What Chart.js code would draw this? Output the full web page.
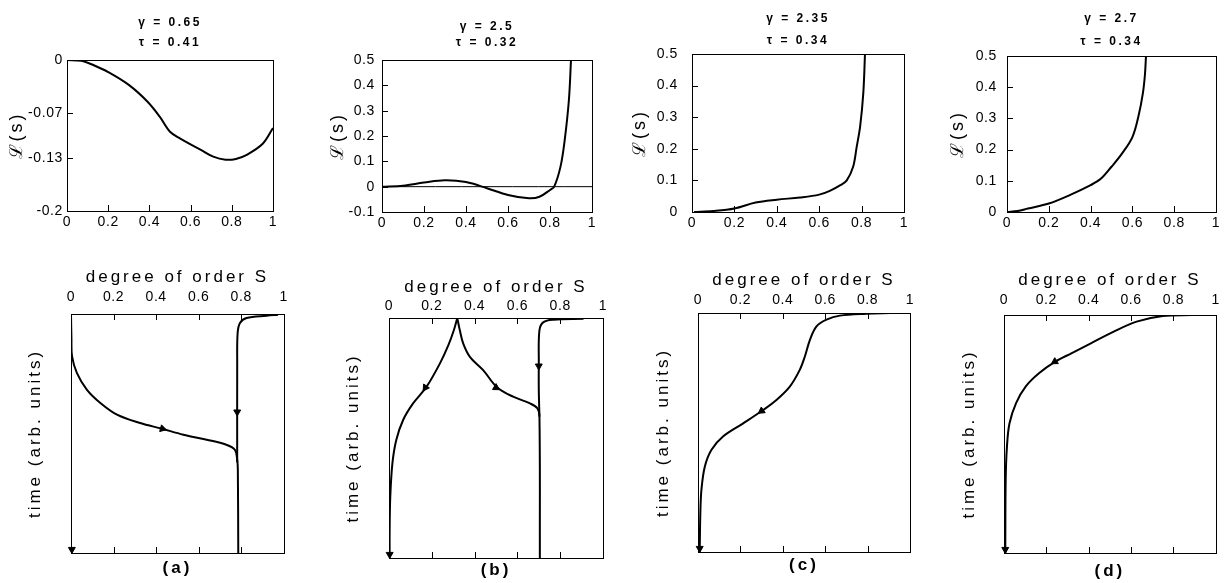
<!DOCTYPE html>
<html>
<head>
<meta charset="utf-8">
<script src="https://cdn.jsdelivr.net/npm/chart.js@4.4.0/dist/chart.umd.min.js"></script>
<style>
  body { margin: 0; background: #fff; }
  #wrap { position: relative; width: 1226px; height: 583px; overflow: hidden; }
  canvas { position: absolute; }
</style>
</head>
<body>
<div id="wrap"></div>
<script>
// run parameters
const gammas = ['0.65', '2.5', '2.35', '2.7'];
const taus = ['0.41', '0.32', '0.34', '0.34'];
const panelLetters = ['(a)', '(b)', '(c)', '(d)'];

// tick labels
const sTicks = [0, 0.2, 0.4, 0.6, 0.8, 1];
const sInner = [0.2, 0.4, 0.6, 0.8];
const lTicksA = [0, -0.07, -0.13, -0.2];
const lTicksB = [-0.1, 0, 0.1, 0.2, 0.3, 0.4, 0.5];
const lTicksCD = [0, 0.1, 0.2, 0.3, 0.4, 0.5];

// top row: L(s) curves
const sTopA = [0, 0.07, 0.13, 0.2, 0.3, 0.39, 0.45, 0.5, 0.55, 0.65, 0.71, 0.77, 0.82, 0.87, 0.95, 1];
const lTopA = [0, -0.001, -0.007, -0.016, -0.033, -0.055, -0.075, -0.095, -0.104, -0.119, -0.128, -0.132, -0.131, -0.126, -0.111, -0.09];
const sTopB = [0, 0.1, 0.2, 0.3, 0.4, 0.5, 0.6, 0.7, 0.75, 0.8, 0.82, 0.85, 0.87, 0.89, 0.9];
const lTopB = [0, 0.004, 0.016, 0.025, 0.018, -0.006, -0.033, -0.046, -0.04, -0.013, 0, 0.079, 0.184, 0.342, 0.5];
const sTopC = [0.01, 0.1, 0.2, 0.3, 0.4, 0.51, 0.6, 0.65, 0.7, 0.73, 0.76, 0.777, 0.793, 0.808, 0.816];
const lTopC = [0, 0.003, 0.011, 0.03, 0.039, 0.046, 0.055, 0.067, 0.085, 0.1, 0.143, 0.207, 0.27, 0.376, 0.5];
const sTopD = [0, 0.05, 0.1, 0.2, 0.3, 0.4, 0.45, 0.5, 0.55, 0.6, 0.63, 0.65, 0.66, 0.665];
const lTopD = [0, 0.003, 0.011, 0.027, 0.054, 0.086, 0.107, 0.145, 0.187, 0.24, 0.31, 0.38, 0.44, 0.5];

// bottom row: trajectories S(t), time runs downwards
const sA1 = [0, 0.002, 0.005, 0.028, 0.075, 0.138, 0.216, 0.325, 0.427, 0.528, 0.638, 0.73, 0.77, 0.781, 0.784, 0.786];
const tA1 = [0, 0.1, 0.177, 0.247, 0.317, 0.372, 0.421, 0.456, 0.48, 0.505, 0.526, 0.547, 0.568, 0.609, 0.651, 1];
const sA2 = [0.973, 0.919, 0.825, 0.794, 0.783, 0.781, 0.781];
const tA2 = [0.003, 0.007, 0.017, 0.038, 0.08, 0.205, 0.62];
const sB1 = [0.319, 0.303, 0.277, 0.2375, 0.175, 0.1125, 0.066, 0.034, 0.016, 0.006, 0.003, 0.003];
const tB1 = [0, 0.051, 0.114, 0.19, 0.287, 0.356, 0.425, 0.508, 0.605, 0.744, 0.882, 1];
const sB2 = [0.319, 0.331, 0.347, 0.378, 0.44, 0.503, 0.58, 0.659, 0.694, 0.703, 0.705];
const tB2 = [0, 0.051, 0.107, 0.162, 0.217, 0.287, 0.328, 0.356, 0.377, 0.411, 1];
const sB3 = [0.909, 0.769, 0.722, 0.703, 0.7, 0.7, 0.703];
const tB3 = [0.003, 0.007, 0.017, 0.051, 0.19, 0.3, 0.411];
const sC = [0.906, 0.795, 0.669, 0.606, 0.559, 0.528, 0.504, 0.48, 0.433, 0.37, 0.307, 0.213, 0.118, 0.063, 0.032, 0.016, 0.011, 0.008];
const tC = [0, 0.003, 0.011, 0.028, 0.056, 0.112, 0.182, 0.238, 0.308, 0.364, 0.406, 0.462, 0.517, 0.573, 0.643, 0.741, 0.839, 1];
const sD = [0.888, 0.749, 0.626, 0.518, 0.41, 0.318, 0.242, 0.165, 0.103, 0.057, 0.026, 0.014, 0.008, 0.006];
const tD = [0, 0.004, 0.028, 0.07, 0.119, 0.161, 0.196, 0.245, 0.3, 0.37, 0.455, 0.552, 0.692, 1];

// arrow heads on the trajectories: S, t, heading in degrees
const arrowsA = [[0.43, 0.48, 105], [0.781, 0.41, 180], [0.004, 0.985, 180]];
const arrowsB = [[0.17, 0.29, 214], [0.5, 0.29, 121], [0.7, 0.2, 180], [0.003, 0.985, 180]];
const arrowsC = [[0.3, 0.41, 235], [0.008, 0.985, 180]];
const arrowsD = [[0.24, 0.196, 239], [0.006, 0.985, 180]];

const ink = '#000';
Chart.defaults.font.family = "'Liberation Sans', Arial, sans-serif";
Chart.defaults.color = ink;

const pts = (xs, ys) => xs.map((x, i) => ({ x, y: ys[i] }));

// the print uses wide letter spacing; canvas can do that per font size
function spaceText(ctx) {
  const desc = Object.getOwnPropertyDescriptor(CanvasRenderingContext2D.prototype, 'font');
  Object.defineProperty(ctx, 'font', {
    get() { return desc.get.call(this); },
    set(v) {
      desc.set.call(this, v);
      const m = /(\d+(\.\d+)?)px/.exec(v);
      const size = m ? parseFloat(m[1]) : 12;
      this.letterSpacing = size <= 12 ? '2.5px' : size < 15 ? '0.6px' : '3px';
    }
  });
}

// box frame + inward tick marks
const frameTicks = {
  id: 'frameTicks',
  afterDatasetsDraw(chart, args, opts) {
    const { ctx, chartArea: a } = chart;
    ctx.save();
    ctx.strokeStyle = ink;
    ctx.lineWidth = 1;
    (opts.marks || []).forEach(([id, side, vals]) => {
      const sc = chart.scales[id];
      vals.forEach(v => {
        const p = Math.round(sc.getPixelForValue(v)) + 0.5;
        ctx.beginPath();
        if (side === 'bottom') { ctx.moveTo(p, a.bottom); ctx.lineTo(p, a.bottom - 6); }
        if (side === 'top') { ctx.moveTo(p, a.top); ctx.lineTo(p, a.top + 6); }
        if (side === 'left') { ctx.moveTo(a.left, p); ctx.lineTo(a.left + 6, p); }
        ctx.stroke();
      });
    });
    ctx.strokeRect(Math.round(a.left) + 0.5, Math.round(a.top) + 0.5, Math.round(a.width), Math.round(a.height));
    ctx.restore();
  }
};
Chart.register(frameTicks);

function addCanvas(left, top, w, h) {
  const c = document.createElement('canvas');
  c.width = w; c.height = h;
  c.style.left = left + 'px';
  c.style.top = top + 'px';
  document.getElementById('wrap').appendChild(c);
  spaceText(c.getContext('2d'));
  return c;
}

function curve(data, width) {
  return { data, borderColor: ink, borderWidth: width || 2, pointRadius: 0, tension: 0.35, fill: false };
}

function arrows(list) {
  return {
    data: list.map(a => ({ x: a[0], y: a[1] })),
    showLine: false, pointStyle: 'triangle', pointRadius: 4,
    pointRotation: list.map(a => a[2]),
    backgroundColor: ink, borderColor: ink, borderWidth: 1, clip: false
  };
}

const fixedTicks = vals => s => { s.ticks = vals.map(v => ({ value: v })); };

// layout of the four top panels (pixel boxes)
const topLayout = [
  { left: 0, width: 285, box: { l: 67, r: 273, t: 60, b: 211 }, tTop: 13, lineH: 20, yPad: 4, yTitleX: 17 },
  { left: 310, width: 294, box: { l: 382, r: 592, t: 60, b: 212 }, tTop: 19, lineH: 16, yPad: 7, yTitleX: 338 },
  { left: 615, width: 301, box: { l: 692, r: 904, t: 54, b: 212 }, tTop: 8, lineH: 22, yPad: 14, yTitleX: 640 },
  { left: 930, width: 296, box: { l: 1007, r: 1216, t: 56, b: 212 }, tTop: 7.5, lineH: 23, yPad: 10, yTitleX: 958 }
];

function topChart(i, datasets, yMin, yMax, yTicks, yInner) {
  const L = topLayout[i];
  const H = 240;
  const c = addCanvas(L.left, 0, L.width, H);
  new Chart(c, {
    type: 'line',
    data: { datasets },
    options: {
      responsive: false, animation: false, devicePixelRatio: 1,
      layout: { padding: { left: 0, top: 0, bottom: 0, right: L.left + L.width - L.box.r } },
      plugins: {
        legend: { display: false }, tooltip: { enabled: false },
        title: {
          display: true, fullSize: false, color: ink,
          text: ['γ = ' + gammas[i], 'τ = ' + taus[i]],
          font: { size: 12, weight: 'bold', lineHeight: L.lineH + 'px' },
          padding: { top: L.tTop, bottom: L.box.t - L.tTop - 2 * L.lineH }
        },
        frameTicks: { marks: [['x', 'bottom', sInner], ['y', 'left', yInner]] }
      },
      scales: {
        x: {
          type: 'linear', min: 0, max: 1,
          afterBuildTicks: fixedTicks(sTicks),
          afterFit: s => { s.height = H - L.box.b; },
          grid: { display: false, drawTicks: false }, border: { display: false },
          ticks: { padding: 3, font: { size: 14 }, callback: v => String(v) }
        },
        y: {
          type: 'linear', min: yMin, max: yMax,
          afterBuildTicks: fixedTicks(yTicks),
          afterFit: s => { s.width = L.box.l - L.left; },
          grid: { display: false, drawTicks: false }, border: { display: false },
          ticks: { padding: L.yPad, font: { size: 14 }, callback: v => String(v) },
          title: { display: true, text: 'ℒ(s)', font: { size: 18 }, padding: { top: L.yTitleX - L.left - 10.8, bottom: 0 } }
        }
      }
    }
  });
}

// layout of the four bottom panels
const botLayout = [
  { left: 0, width: 296, box: { l: 71, r: 284, t: 314, b: 553 }, tickPad: 8, sTitleY: 277, yTitleX: 35, letterY: 568 },
  { left: 305, width: 310, box: { l: 389, r: 603, t: 318, b: 558 }, tickPad: 3, sTitleY: 287, yTitleX: 353, letterY: 570 },
  { left: 620, width: 302, box: { l: 698, r: 910, t: 313, b: 552 }, tickPad: 4, sTitleY: 280, yTitleX: 663, letterY: 565 },
  { left: 928, width: 298, box: { l: 1004, r: 1221, t: 315, b: 553 }, tickPad: 6, sTitleY: 280, yTitleX: 969, letterY: 571 }
];

function bottomChart(i, datasets) {
  const L = botLayout[i];
  const top = 245, H = 338;
  const c = addCanvas(L.left, top, L.width, H);
  new Chart(c, {
    type: 'line',
    data: { datasets },
    options: {
      responsive: false, animation: false, devicePixelRatio: 1,
      layout: { padding: { left: 0, top: 0, bottom: 0, right: L.left + L.width - L.box.r } },
      plugins: {
        legend: { display: false }, tooltip: { enabled: false },
        frameTicks: { marks: [['x', 'top', sInner], ['x2', 'bottom', sInner]] }
      },
      scales: {
        x: {
          type: 'linear', position: 'top', min: 0, max: 1,
          afterBuildTicks: fixedTicks(sTicks),
          afterFit: s => { s.height = L.box.t - top; },
          grid: { display: false, drawTicks: false }, border: { display: false },
          ticks: { padding: L.tickPad, font: { size: 14 }, callback: v => String(v) },
          title: { display: true, text: 'degree of order S', font: { size: 17 }, padding: { top: L.sTitleY - top - 10.2, bottom: 0 } }
        },
        x2: {
          type: 'linear', position: 'bottom', min: 0, max: 1,
          afterBuildTicks: fixedTicks(sTicks),
          afterFit: s => { s.height = top + H - L.box.b; },
          grid: { display: false, drawTicks: false }, border: { display: false },
          ticks: { display: false },
          title: { display: true, text: panelLetters[i], font: { size: 17, weight: 'bold' }, padding: { top: 0, bottom: top + H - L.letterY - 10.2 } }
        },
        y: {
          type: 'linear', min: 0, max: 1, reverse: true,
          afterFit: s => { s.width = L.box.l - L.left; },
          grid: { display: false, drawTicks: false }, border: { display: false },
          ticks: { display: false },
          title: { display: true, text: 'time (arb. units)', font: { size: 17 }, padding: { top: L.yTitleX - L.left - 10.2, bottom: 0 } }
        }
      }
    }
  });
}

topChart(0, [curve(pts(sTopA, lTopA))], -0.2, 0, lTicksA, [-0.07, -0.13]);
topChart(1, [curve(pts([0, 1], [0, 0]), 1), curve(pts(sTopB, lTopB))], -0.1, 0.5, lTicksB, [0, 0.1, 0.2, 0.3, 0.4]);
topChart(2, [curve(pts(sTopC, lTopC))], 0, 0.5, lTicksCD, [0.1, 0.2, 0.3, 0.4]);
topChart(3, [curve(pts(sTopD, lTopD))], 0, 0.5, lTicksCD, [0.1, 0.2, 0.3, 0.4]);

bottomChart(0, [curve(pts(sA1, tA1)), curve(pts(sA2, tA2)), arrows(arrowsA)]);
bottomChart(1, [curve(pts(sB1, tB1)), curve(pts(sB2, tB2)), curve(pts(sB3, tB3)), arrows(arrowsB)]);
bottomChart(2, [curve(pts(sC, tC)), arrows(arrowsC)]);
bottomChart(3, [curve(pts(sD, tD)), arrows(arrowsD)]);
</script>
</body>
</html>
